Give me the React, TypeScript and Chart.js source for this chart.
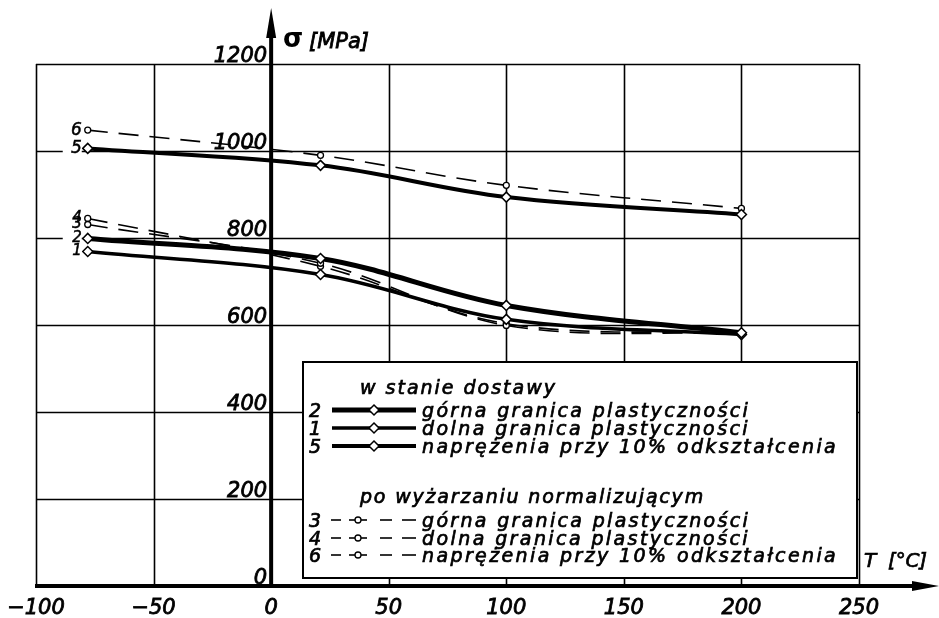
import React, { useEffect, useRef } from "react";
import { Chart, registerables } from "chart.js";
Chart.register(...registerables);

// temperatures of the measured points [°C]
const temperatures = [-78, 21, 100, 200];
// w stanie dostawy
const series2 = [799, 753, 645, 582]; // górna granica plastyczności
const series1 = [769, 716, 613, 578]; // dolna granica plastyczności
const series5 = [1006, 967, 894, 854]; // naprężenia przy 10% odkształcenia
// po wyżarzaniu normalizującym
const series3 = [831, 742, 599, 580];
const series4 = [845, 735, 603, 581];
const series6 = [1048, 990, 921, 868];

const xTickValues = [-100, -50, 0, 50, 100, 150, 200, 250];
const yTickValues = [0, 200, 400, 600, 800, 1000, 1200];
const seriesNumbers = ["2", "1", "5", "3", "4", "6"];
const seriesNames = [
  "górna granica plastyczności",
  "dolna granica plastyczności",
  "naprężenia przy 10% odkształcenia",
  "górna granica plastyczności",
  "dolna granica plastyczności",
  "naprężenia przy 10% odkształcenia",
];
const groupTitles = ["w stanie dostawy", "po wyżarzaniu normalizującym"];
const yTitleSymbol = "σ";
const yTitleUnit = "[MPa]";
const xTitleSymbol = "T";
const xTitleUnit = "[°C]";

const FONT = '"DejaVu Sans", "Liberation Sans", sans-serif';

function heavyText(ctx: CanvasRenderingContext2D, text: string, x: number, y: number, w = 0.7) {
  ctx.fillText(text, x, y);
  ctx.save();
  ctx.lineWidth = w;
  ctx.strokeStyle = ctx.fillStyle as string;
  ctx.setLineDash([]);
  ctx.strokeText(text, x, y);
  ctx.restore();
}

function fitText(ctx: CanvasRenderingContext2D, text: string, x: number, y: number, width: number, w = 0.7) {
  const c: any = ctx;
  c.letterSpacing = "0px";
  const m = ctx.measureText(text).width;
  const ls = (width - m) / Math.max(1, text.length);
  c.letterSpacing = ls.toFixed(2) + "px";
  heavyText(ctx, text, x, y, w);
  c.letterSpacing = "0px";
}

function diamond(ctx: CanvasRenderingContext2D, x: number, y: number, r: number) {
  ctx.beginPath();
  ctx.moveTo(x, y - r);
  ctx.lineTo(x + r, y);
  ctx.lineTo(x, y + r);
  ctx.lineTo(x - r, y);
  ctx.closePath();
  ctx.fillStyle = "#fff";
  ctx.fill();
  ctx.lineWidth = 1.5;
  ctx.strokeStyle = "#000";
  ctx.stroke();
}

function circle(ctx: CanvasRenderingContext2D, x: number, y: number, r: number) {
  ctx.beginPath();
  ctx.arc(x, y, r, 0, Math.PI * 2);
  ctx.fillStyle = "#fff";
  ctx.fill();
  ctx.lineWidth = 1.3;
  ctx.strokeStyle = "#000";
  ctx.stroke();
}

const decor = {
  id: "decor",
  beforeDraw(chart: any) {
    const ctx = chart.ctx as CanvasRenderingContext2D;
    ctx.save();
    ctx.fillStyle = "#fff";
    ctx.fillRect(0, 0, chart.width, chart.height);
    ctx.restore();
  },
  beforeDatasetsDraw(chart: any) {
    const ctx = chart.ctx as CanvasRenderingContext2D;
    const xs = chart.scales.x;
    const ys = chart.scales.y;
    const a = chart.chartArea;
    ctx.save();
    ctx.strokeStyle = "#000";
    ctx.lineWidth = 1.6;
    xTickValues.forEach((v) => {
      const px = Math.round(xs.getPixelForValue(v)) + 0.5;
      ctx.beginPath();
      ctx.moveTo(px, a.top);
      ctx.lineTo(px, a.bottom);
      ctx.stroke();
    });
    yTickValues.forEach((v) => {
      const py = Math.round(ys.getPixelForValue(v)) + 0.5;
      ctx.beginPath();
      ctx.moveTo(a.left, py);
      ctx.lineTo(a.right, py);
      ctx.stroke();
    });
    ctx.restore();
  },
  afterDatasetsDraw(chart: any) {
    const ctx = chart.ctx as CanvasRenderingContext2D;
    const xs = chart.scales.x;
    const ys = chart.scales.y;
    const a = chart.chartArea;
    ctx.save();

    // series numbers at the first points
    const firstVals = [series2[0], series1[0], series5[0], series3[0], series4[0], series6[0]];
    const px0 = xs.getPixelForValue(temperatures[0]);
    firstVals.forEach((v) => {
      const py = ys.getPixelForValue(v);
      ctx.fillStyle = "#fff";
      ctx.fillRect(px0 - 25, py - 5, 19, 10);
    });
    firstVals.forEach((v, i) => {
      const py = ys.getPixelForValue(v);
      const big = seriesNumbers[i] === "5" || seriesNumbers[i] === "6";
      ctx.font = `italic ${big ? 17 : 15}px ${FONT}`;
      ctx.fillStyle = "#000";
      ctx.textAlign = "right";
      ctx.textBaseline = "middle";
      heavyText(ctx, seriesNumbers[i], px0 - 6, py, 0.5);
    });

    // axes
    const x0 = xs.getPixelForValue(0);
    const y0 = ys.getPixelForValue(0);
    ctx.strokeStyle = "#000";
    ctx.fillStyle = "#000";
    ctx.lineWidth = 4;
    ctx.beginPath();
    ctx.moveTo(x0, y0 + 2);
    ctx.lineTo(x0, 30);
    ctx.stroke();
    ctx.beginPath();
    ctx.moveTo(x0, 8);
    ctx.lineTo(x0 + 5, 38);
    ctx.lineTo(x0 - 5, 38);
    ctx.closePath();
    ctx.fill();
    ctx.beginPath();
    ctx.moveTo(a.left - 1, y0);
    ctx.lineTo(922, y0);
    ctx.stroke();
    ctx.beginPath();
    ctx.moveTo(939, y0);
    ctx.lineTo(912, y0 - 5);
    ctx.lineTo(912, y0 + 5);
    ctx.closePath();
    ctx.fill();

    // tick labels
    ctx.font = `italic 21px ${FONT}`;
    ctx.textBaseline = "alphabetic";
    ctx.textAlign = "center";
    xTickValues.forEach((v) => {
      const label = v < 0 ? "\u2212" + Math.abs(v) : String(v);
      heavyText(ctx, label, xs.getPixelForValue(v), 614, 0.8);
    });
    ctx.textAlign = "right";
    yTickValues.forEach((v) => {
      heavyText(ctx, String(v), x0 - 4, ys.getPixelForValue(v) - 2, 0.8);
    });

    // axis titles
    ctx.textAlign = "left";
    ctx.font = `bold 26px ${FONT}`;
    ctx.fillText(yTitleSymbol, 283, 47);
    ctx.font = `italic 21px ${FONT}`;
    fitText(ctx, yTitleUnit, 309, 48, 60, 0.8);
    ctx.font = `italic 20px ${FONT}`;
    heavyText(ctx, xTitleSymbol, 864, 567, 0.7);
    fitText(ctx, xTitleUnit, 888, 567, 39, 0.7);

    // legend box
    const bx = 303, by = 362, bw = 554, bh = 216;
    ctx.fillStyle = "#fff";
    ctx.fillRect(bx, by, bw, bh);
    ctx.lineWidth = 2;
    ctx.strokeStyle = "#000";
    ctx.strokeRect(bx, by, bw, bh);

    ctx.fillStyle = "#000";
    ctx.font = `italic 19px ${FONT}`;
    fitText(ctx, groupTitles[0], 360, 394, 197);
    fitText(ctx, groupTitles[1], 360, 503, 345);

    const rowBase = [417, 435, 453, 527, 545, 562];
    const nameW = [328, 328, 416, 328, 328, 416];
    const ds = chart.data.datasets;
    rowBase.forEach((yb, i) => {
      const d = ds[i];
      const ym = yb - 7;
      ctx.fillStyle = "#000";
      ctx.font = `italic 19px ${FONT}`;
      ctx.textAlign = "left";
      heavyText(ctx, seriesNumbers[i], 309, yb);
      fitText(ctx, seriesNames[i], 422, yb, nameW[i]);
      ctx.strokeStyle = "#000";
      ctx.lineWidth = d.borderWidth;
      if (d.borderDash && d.borderDash.length) {
        const segs = [[331, 341], [349, 367], [380, 392], [402, 416]];
        segs.forEach(([s, e]) => {
          ctx.beginPath();
          ctx.moveTo(s, ym);
          ctx.lineTo(e, ym);
          ctx.stroke();
        });
        circle(ctx, 358, ym, 3);
      } else {
        ctx.beginPath();
        ctx.moveTo(332, ym);
        ctx.lineTo(416, ym);
        ctx.stroke();
        diamond(ctx, 374, ym, 5);
      }
    });

    ctx.restore();
  },
};

export default function App() {
  const ref = useRef<HTMLCanvasElement | null>(null);
  useEffect(() => {
    document.body.style.margin = "0";
    const canvas = ref.current;
    if (!canvas) return;
    const mk = (vals: number[]) => temperatures.map((t, i) => ({ x: t, y: vals[i] }));
    const solid = (vals: number[], w: number) => ({
      data: mk(vals),
      borderColor: "#000",
      borderWidth: w,
      pointStyle: "rectRot" as const,
      pointRadius: 5,
      pointBackgroundColor: "#fff",
      pointBorderColor: "#000",
      pointBorderWidth: 1.5,
      tension: 0.35,
      fill: false,
    });
    const dashed = (vals: number[]) => ({
      data: mk(vals),
      borderColor: "#000",
      borderWidth: 1.6,
      borderDash: [20, 11],
      pointStyle: "circle" as const,
      pointRadius: 3,
      pointBackgroundColor: "#fff",
      pointBorderColor: "#000",
      pointBorderWidth: 1.3,
      tension: 0.35,
      fill: false,
    });
    const chart = new Chart(canvas, {
      type: "line",
      data: {
        datasets: [
          solid(series2, 5),
          solid(series1, 3.5),
          solid(series5, 4),
          dashed(series3),
          dashed(series4),
          dashed(series6),
        ] as any,
      },
      options: {
        responsive: false,
        animation: false,
        devicePixelRatio: 1,
        layout: { padding: { left: 36, right: 80, top: 64, bottom: 32 } },
        plugins: { legend: { display: false }, tooltip: { enabled: false } },
        scales: {
          x: { type: "linear", min: -100, max: 250, display: false },
          y: { type: "linear", min: 0, max: 1200, display: false },
        },
      },
      plugins: [decor],
    });
    return () => chart.destroy();
  }, []);
  return (
    <div style={{ width: 939, height: 618 }}>
      <canvas ref={ref} width={939} height={618} style={{ display: "block" }} />
    </div>
  );
}
